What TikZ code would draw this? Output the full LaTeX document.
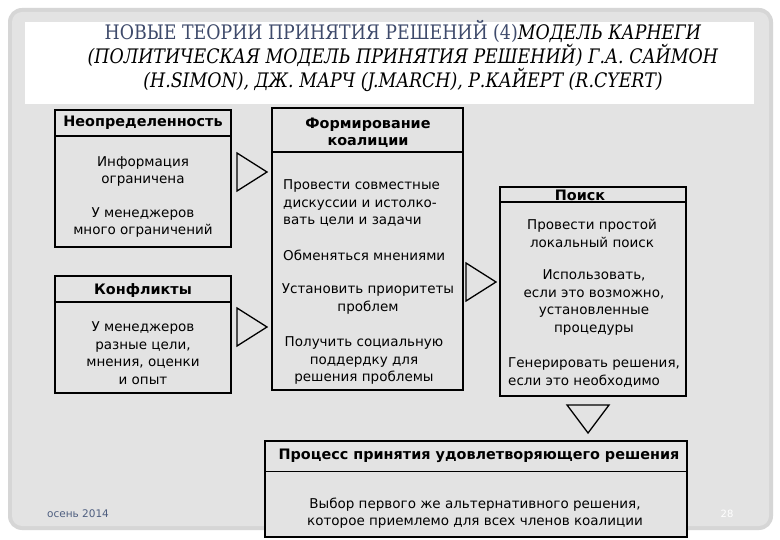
\documentclass[tikz,border=0pt]{standalone}
\usepackage{fontspec}
\setsansfont{DejaVu Sans}
\newfontfamily\titlefont[FakeStretch=0.868]{DejaVu Serif}
\usetikzlibrary{calc}
\definecolor{slidegray}{HTML}{E3E3E3}
\definecolor{rimgray}{HTML}{D6D6D6}
\definecolor{titleblue}{HTML}{3E4A6B}
\definecolor{footblue}{HTML}{4F5F80}
\tikzset{
  panel/.style={draw=black, line width=1.7pt, fill=slidegray, inner sep=0pt},
  rule/.style={draw=black, line width=1.3pt},
  body/.style={font=\sffamily\fontsize{13.5}{17.5}\selectfont, align=center, inner sep=0pt},
  head/.style={body, font=\sffamily\bfseries\fontsize{14.4}{17}\selectfont},
  tri/.style={draw=black, line width=1.3pt, line join=miter}
}
\begin{document}
\begin{tikzpicture}[x=1pt,y=-1pt]
\useasboundingbox (0,0) rectangle (780,540);
% slide frame
\fill[white] (0,0) rectangle (780,540);
\fill[rimgray,rounded corners=14pt] (8,8) rectangle (773,530);
\fill[slidegray,rounded corners=10pt] (12,12) rectangle (769,526);
\fill[white] (25,22) rectangle (754,104);

\node[align=center, inner sep=0pt, font=\titlefont\fontsize{20}{24}\selectfont] (title) at (403,56)
  {\textcolor{titleblue}{НОВЫЕ ТЕОРИИ ПРИНЯТИЯ РЕШЕНИЙ (4)}\textit{МОДЕЛЬ КАРНЕГИ}\\
   \textit{(ПОЛИТИЧЕСКАЯ МОДЕЛЬ ПРИНЯТИЯ РЕШЕНИЙ) Г.А. САЙМОН}\\
   \textit{(H.SIMON), ДЖ. МАРЧ (J.MARCH), Р.КАЙЕРТ (R.CYERT)}};

% boxes
\node[panel, minimum width=176pt, minimum height=137pt] (unc) at (143,178.5) {};
\node[panel, minimum width=176pt, minimum height=117pt] (conf) at (143,334.5) {};
\node[panel, minimum width=191pt, minimum height=282pt] (coal) at (367.5,249) {};
\node[panel, minimum width=186pt, minimum height=209pt] (srch) at (593,291.5) {};
\node[panel, minimum width=422pt, minimum height=96pt] (sat) at (476,489) {};

\draw[rule] ([yshift=-27pt]unc.north west) -- ([yshift=-27pt]unc.north east);
\draw[rule] ([yshift=-27pt]conf.north west) -- ([yshift=-27pt]conf.north east);
\draw[rule] ([yshift=-45pt]coal.north west) -- ([yshift=-45pt]coal.north east);
\draw[rule] ([yshift=-16pt]srch.north west) -- ([yshift=-16pt]srch.north east);
\draw[rule] ([yshift=-31pt]sat.north west) -- ([yshift=-31pt]sat.north east);

% headers
\node[head] (uncH) at (143,123) {Неопределенность};
\node[head] (confH) at (143,291) {Конфликты};
\node[head] (coalH) at (368,132.5) {Формирование\\коалиции};
\node[head] (srchH) at (580,195) {Поиск};
\node[head] (satH) at (479,456) {Процесс принятия удовлетворяющего решения};

% texts
\node[body] (unc1) at (143,171.5) {Информация\\ограничена};
\node[body] (unc2) at (143,222.5) {У менеджеров\\много ограничений};
\node[body] (conf1) at (143,353) {У менеджеров\\разные цели,\\мнения, оценки\\и опыт};
\node[body, align=left, anchor=west] (coal1) at (283,203.5) {Провести совместные\\дискуссии и истолко-\\вать цели и задачи};
\node[body, anchor=west] (coal2) at (283,255) {Обменяться мнениями};
\node[body] (coal3) at (368,299) {Установить приоритеты\\проблем};
\node[body] (coal4) at (364,360.5) {Получить социальную\\поддердку для\\решения проблемы};
\node[body] (srch1) at (592,233.5) {Провести простой\\локальный поиск};
\node[body] (srch2) at (594,302.5) {Использовать,\\если это возможно,\\установленные\\процедуры};
\node[body, align=left, anchor=west] (srch3) at (508,372.5) {Генерировать решения,\\если это необходимо};
\node[body] (sat1) at (475,513) {Выбор первого же альтернативного решения,\\которое приемлемо для всех членов коалиции};

% arrow triangles
\coordinate (t1) at (267,172);
\coordinate (t2) at (267,327);
\coordinate (t3) at (496,282);
\coordinate (t4) at (588,433);
\foreach \t in {t1,t2,t3}
  \draw[tri] (\t) -- ++(-30,-19) -- ++(0,38) -- cycle;
\draw[tri] (t4) -- ++(-21,-28) -- ++(42,0) -- cycle;

% footer
\node[font=\sffamily\fontsize{10.5}{12}\selectfont, text=footblue, inner sep=0pt] (date) at (78,514) {осень 2014};
\node[font=\sffamily\fontsize{10}{12}\selectfont, text=white, inner sep=0pt] (page) at (727,514) {28};
\end{tikzpicture}
\end{document}
